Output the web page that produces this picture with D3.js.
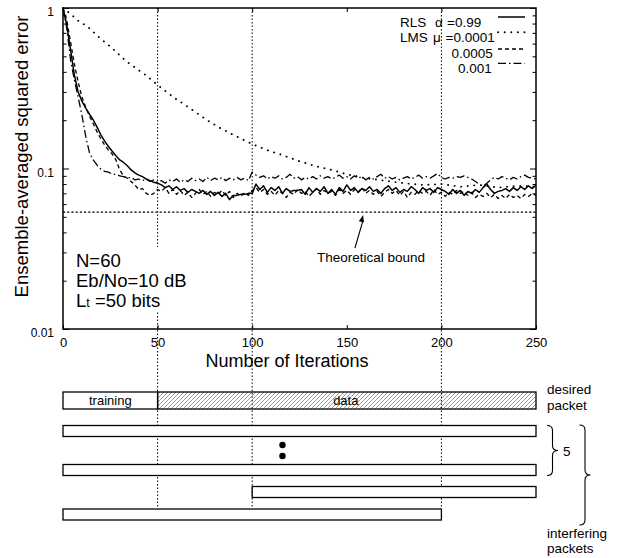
<!DOCTYPE html>
<html>
<head>
<meta charset="utf-8">
<script src="https://cdn.jsdelivr.net/npm/d3@7"></script>
<style>
body { margin: 0; background: #fff; }
svg { font-family: "Liberation Sans", Arial, Helvetica, sans-serif; }
</style>
</head>
<body>
<div id="chart-area"></div>
<script>
// ---- data ----
var xTicks = [0, 50, 100, 150, 200, 250];
var yMajor = [0.01, 0.1, 1];
var yMajorLabels = ["0.01", "0.1", "1"];
var yMinor = [0.02, 0.03, 0.04, 0.05, 0.06, 0.07, 0.08, 0.09, 0.2, 0.3, 0.4, 0.5, 0.6, 0.7, 0.8, 0.9];
var gridIters = [50, 100, 200];
var theoreticalBound = 0.0535;

// noisy curves sampled every 2 iterations (0..250)
var iterStep = 2;

var rls = [
  1.0, 0.783, 0.548, 0.383, 0.300, 0.263, 0.238, 0.218, 0.2005, 0.181, 0.162, 0.148, 0.137,
  0.128, 0.120, 0.113, 0.109, 0.104, 0.098, 0.094, 0.091, 0.089, 0.086, 0.084, 0.082, 0.081,
  0.079, 0.076, 0.078, 0.074, 0.077,
  0.073, 0.075, 0.071, 0.074, 0.072,
  0.070, 0.073, 0.069, 0.072, 0.068,
  0.071, 0.067, 0.070, 0.064, 0.068,
  0.068, 0.069, 0.069, 0.070, 0.070,
  0.080, 0.074, 0.078, 0.071, 0.076,
  0.073, 0.077, 0.070, 0.075, 0.072,
  0.073, 0.073, 0.074, 0.069, 0.076,
  0.071, 0.075, 0.072, 0.077, 0.070,
  0.074, 0.069, 0.076, 0.072, 0.079,
  0.073, 0.076, 0.071, 0.075, 0.073,
  0.077, 0.072, 0.074, 0.070, 0.075,
  0.078, 0.073, 0.076, 0.071, 0.074,
  0.072, 0.077, 0.074, 0.070, 0.076,
  0.073, 0.075, 0.071, 0.076, 0.074,
  0.072, 0.069, 0.074, 0.070, 0.073,
  0.068, 0.072, 0.070, 0.074, 0.071,
  0.076, 0.080, 0.074, 0.070, 0.072,
  0.073, 0.075, 0.072, 0.076, 0.073,
  0.077, 0.074, 0.078, 0.075, 0.079
];

var lms0005 = [
  1.0, 0.842, 0.614, 0.448, 0.346, 0.279, 0.241, 0.212, 0.190, 0.169, 0.153, 0.140, 0.130,
  0.123, 0.113, 0.098, 0.090, 0.087, 0.083, 0.079, 0.074, 0.075, 0.070, 0.068, 0.070, 0.074,
  0.072, 0.076, 0.070, 0.074, 0.069,
  0.073, 0.068, 0.071, 0.066, 0.070,
  0.074, 0.069, 0.072, 0.067, 0.071,
  0.069, 0.073, 0.068, 0.072, 0.066,
  0.070, 0.067, 0.071, 0.068, 0.073,
  0.076, 0.071, 0.074, 0.069, 0.072,
  0.068, 0.073, 0.070, 0.066, 0.071,
  0.069, 0.074, 0.070, 0.072, 0.067,
  0.071, 0.075, 0.069, 0.073, 0.070,
  0.072, 0.068, 0.074, 0.070, 0.073,
  0.069, 0.074, 0.071, 0.076, 0.070,
  0.073, 0.069, 0.072, 0.067, 0.071,
  0.074, 0.070, 0.073, 0.068, 0.072,
  0.066, 0.071, 0.069, 0.073, 0.070,
  0.072, 0.068, 0.074, 0.069, 0.071,
  0.067, 0.071, 0.069, 0.073, 0.070,
  0.072, 0.068, 0.071, 0.066, 0.069,
  0.067, 0.070, 0.066, 0.069, 0.065,
  0.068, 0.065, 0.069, 0.066, 0.068,
  0.065, 0.069, 0.067, 0.070, 0.068
];

var lms001 = [
  1.0, 0.750, 0.474, 0.356, 0.279, 0.215, 0.159, 0.125, 0.113, 0.105, 0.099, 0.096, 0.095,
  0.092, 0.092, 0.090,
  0.089, 0.087, 0.088, 0.085, 0.086,
  0.084, 0.086, 0.083, 0.085, 0.082,
  0.084, 0.081, 0.085, 0.083, 0.086,
  0.082, 0.085, 0.083, 0.087, 0.084,
  0.086, 0.083, 0.088, 0.084, 0.087,
  0.085, 0.088, 0.084, 0.087, 0.085,
  0.088, 0.085, 0.087, 0.084, 0.095,
  0.091, 0.088, 0.090, 0.086, 0.089,
  0.087, 0.090, 0.086, 0.088, 0.092,
  0.087, 0.089, 0.085, 0.088, 0.086,
  0.089, 0.086, 0.090, 0.087, 0.089,
  0.086, 0.088, 0.091, 0.087, 0.089,
  0.086, 0.090, 0.087, 0.089, 0.085,
  0.088, 0.086, 0.089, 0.092, 0.087,
  0.089, 0.086, 0.088, 0.085, 0.087,
  0.089, 0.086, 0.088, 0.091, 0.087,
  0.089, 0.087, 0.090, 0.093, 0.088,
  0.086, 0.088, 0.087, 0.089, 0.088,
  0.090, 0.088, 0.086, 0.083, 0.080,
  0.077, 0.081, 0.085, 0.088, 0.086,
  0.089, 0.087, 0.085, 0.088, 0.086,
  0.089, 0.091, 0.088, 0.087, 0.086
];

// smooth slow curve, read at irregular iterations
var lms0001Iter = [0, 4, 8, 13, 19, 26, 33, 40, 44, 50, 58, 67, 76, 83, 90, 100, 108, 116, 125, 134, 142, 150, 160, 170, 180, 190, 200, 210, 220, 230, 240, 250];
var lms0001Val = [1.0, 0.918, 0.834, 0.765, 0.657, 0.561, 0.47, 0.41, 0.38, 0.331, 0.280, 0.238, 0.2005, 0.179, 0.162, 0.142, 0.130, 0.121, 0.111, 0.103, 0.098, 0.092, 0.087, 0.084, 0.081, 0.079, 0.080, 0.077, 0.079, 0.076, 0.078, 0.077];

// packet diagram (in iterations)
var desiredPacket = [
  { label: "training", start: 0, end: 50, hatch: false },
  { label: "data", start: 50, end: 250, hatch: true }
];
var interferingPackets = [
  { start: 0, end: 250 },
  { start: 0, end: 250 },
  { start: 100, end: 250 },
  { start: 0, end: 200 }
];

// ---- layout ----
var W = 624, H = 558;
var plot = { left: 63, right: 536, top: 8, bottom: 329 };
var rowTop = [392, 425.5, 464.5, 486.5, 509];
var rowH = [17, 11, 11, 11, 11];

var svg = d3.select("#chart-area")
  .append("svg")
  .attr("width", W)
  .attr("height", H);

var x = d3.scaleLinear().domain([0, 250]).range([plot.left, plot.right]);
var y = d3.scaleLog().domain([0.01, 1]).range([plot.bottom, plot.top]);

var defs = svg.append("defs");
var pat = defs.append("pattern")
  .attr("id", "hatch")
  .attr("patternUnits", "userSpaceOnUse")
  .attr("width", 4).attr("height", 4);
pat.append("path")
  .attr("d", "M-1,1 l2,-2 M0,4 l4,-4 M3,5 l2,-2")
  .attr("stroke", "#555")
  .attr("stroke-width", 0.6);

// vertical dotted guide lines
svg.selectAll(".guide")
  .data(gridIters)
  .enter().append("line")
  .attr("class", "guide")
  .attr("x1", function(d) { return x(d); })
  .attr("x2", function(d) { return x(d); })
  .attr("y1", plot.top)
  .attr("y2", 508)
  .attr("stroke", "#000")
  .attr("stroke-width", 1)
  .attr("stroke-dasharray", "1.5 2");

// theoretical bound
svg.append("line")
  .attr("x1", plot.left).attr("x2", plot.right)
  .attr("y1", y(theoreticalBound)).attr("y2", y(theoreticalBound))
  .attr("stroke", "#000")
  .attr("stroke-width", 1.4)
  .attr("stroke-dasharray", "2.2 2");

// white box behind parameter text (cuts the guide line)
svg.append("rect")
  .attr("x", 70).attr("y", 247)
  .attr("width", 125).attr("height", 65)
  .attr("fill", "#fff");

// curves
var line = d3.line()
  .x(function(d) { return x(d.i); })
  .y(function(d) { return y(d.v); });

function toPoints(arr) {
  return arr.map(function(v, k) { return { i: k * iterStep, v: v }; });
}

var series = [
  { pts: lms0001Iter.map(function(it, k) { return { i: it, v: lms0001Val[k] }; }), dash: "0.1 6.5", w: 1.9, cap: "round" },
  { pts: toPoints(lms0005), dash: "4 3", w: 1.3, cap: "butt" },
  { pts: toPoints(lms001), dash: "8 3 1.5 3", w: 1.3, cap: "butt" },
  { pts: toPoints(rls), dash: null, w: 1.5, cap: "butt" }
];

svg.selectAll(".curve")
  .data(series)
  .enter().append("path")
  .attr("class", "curve")
  .attr("d", function(d) { return line(d.pts); })
  .attr("fill", "none")
  .attr("stroke", "#000")
  .attr("stroke-width", function(d) { return d.w; })
  .attr("stroke-linecap", function(d) { return d.cap; })
  .attr("stroke-linejoin", "round")
  .attr("stroke-dasharray", function(d) { return d.dash; });

// axes
function styleAxis(g) {
  g.select(".domain").remove();
  g.selectAll("line").attr("stroke", "#000").attr("stroke-width", 1);
}

var xAxisGroup = svg.append("g")
  .attr("transform", "translate(0," + plot.bottom + ")")
  .call(d3.axisBottom(x).tickValues(xTicks).tickSizeInner(-4).tickSizeOuter(0).tickPadding(9));
styleAxis(xAxisGroup);
xAxisGroup.selectAll("text").attr("font-size", 13).attr("font-family", null).attr("fill", "#000");

var xTopGroup = svg.append("g")
  .attr("transform", "translate(0," + plot.top + ")")
  .call(d3.axisTop(x).tickValues([50, 100, 150, 200]).tickSizeInner(-4).tickSizeOuter(0).tickFormat(""));
styleAxis(xTopGroup);

var yAxisGroup = svg.append("g")
  .attr("transform", "translate(" + plot.left + ",0)")
  .call(d3.axisLeft(y).tickValues(yMajor).tickSizeInner(-6).tickSizeOuter(0).tickPadding(9)
    .tickFormat(function(d, k) { return yMajorLabels[k]; }));
styleAxis(yAxisGroup);
yAxisGroup.selectAll("text")
  .attr("font-size", 12).attr("font-family", null).attr("fill", "#000")
  .attr("transform", "translate(0,4)");

var yMinorGroup = svg.append("g")
  .attr("transform", "translate(" + plot.left + ",0)")
  .call(d3.axisLeft(y).tickValues(yMinor).tickSizeInner(-3.5).tickSizeOuter(0).tickFormat(""));
styleAxis(yMinorGroup);

var yRightGroup = svg.append("g")
  .attr("transform", "translate(" + plot.right + ",0)")
  .call(d3.axisRight(y).tickValues(yMajor).tickSizeInner(-6).tickSizeOuter(0).tickFormat(""));
styleAxis(yRightGroup);

var yRightMinor = svg.append("g")
  .attr("transform", "translate(" + plot.right + ",0)")
  .call(d3.axisRight(y).tickValues(yMinor).tickSizeInner(-3.5).tickSizeOuter(0).tickFormat(""));
styleAxis(yRightMinor);

// frame
svg.append("rect")
  .attr("x", plot.left).attr("y", plot.top)
  .attr("width", plot.right - plot.left)
  .attr("height", plot.bottom - plot.top)
  .attr("fill", "none")
  .attr("stroke", "#000")
  .attr("stroke-width", 1.5);

// axis titles
svg.append("text")
  .attr("x", 287).attr("y", 366.5)
  .attr("text-anchor", "middle")
  .attr("font-size", 18)
  .text("Number of Iterations");

svg.append("text")
  .attr("transform", "translate(28,156.5) rotate(-90)")
  .attr("text-anchor", "middle")
  .attr("font-size", 18.5)
  .text("Ensemble-averaged squared error");

// parameter text
var params = svg.append("text").attr("font-size", 18.5);
params.append("tspan").attr("x", 76).attr("y", 267).text("N=60");
params.append("tspan").attr("x", 76).attr("y", 287).text("Eb/No=10 dB");
params.append("tspan").attr("x", 76).attr("y", 307).text("L");
params.append("tspan").attr("font-size", 12.5).text("t");
params.append("tspan").text(" =50 bits");

// theoretical bound label + arrow
svg.append("text")
  .attr("x", 317).attr("y", 261.5)
  .attr("font-size", 13.5)
  .text("Theoretical bound");

var tip = [x(158.6), y(theoreticalBound) + 3];
var tail = [x(154.3), 248];
svg.append("line")
  .attr("x1", tail[0]).attr("y1", tail[1])
  .attr("x2", tip[0]).attr("y2", tip[1] + 5)
  .attr("stroke", "#000").attr("stroke-width", 1.1);
var ang = Math.atan2(tip[1] - tail[1], tip[0] - tail[0]);
var ah = 7, aw = 2.6;
svg.append("path")
  .attr("d", "M" + tip[0] + "," + tip[1] +
    " L" + (tip[0] - ah * Math.cos(ang) + aw * Math.sin(ang)) + "," + (tip[1] - ah * Math.sin(ang) - aw * Math.cos(ang)) +
    " L" + (tip[0] - ah * Math.cos(ang) - aw * Math.sin(ang)) + "," + (tip[1] - ah * Math.sin(ang) + aw * Math.cos(ang)) + " Z")
  .attr("fill", "#000");

// legend
var legendRows = [
  { a: "RLS", g: "\u03B1", gx: 435, b: "=0.99", bx: 447, anchor: "start", base: 26.5, ly: 17, dash: null, w: 1.5, cap: "butt" },
  { a: "LMS", g: "\u03BC", gx: 433, b: "=0.0001", bx: 445.5, anchor: "start", base: 42, ly: 32.3, dash: "0.1 6.5", w: 1.9, cap: "round" },
  { a: "", g: "", gx: 0, b: "0.0005", bx: 492.7, anchor: "end", base: 57.5, ly: 49, dash: "4 3", w: 1.3, cap: "butt" },
  { a: "", g: "", gx: 0, b: "0.001", bx: 491.7, anchor: "end", base: 73, ly: 63.3, dash: "8 3 1.5 3", w: 1.3, cap: "butt" }
];
var leg = svg.append("g").attr("font-size", 13.5);
legendRows.forEach(function(r) {
  if (r.a) leg.append("text").attr("x", 400).attr("y", r.base).text(r.a);
  if (r.g) leg.append("text").attr("x", r.gx).attr("y", r.base).text(r.g);
  leg.append("text").attr("x", r.bx).attr("y", r.base).attr("text-anchor", r.anchor).text(r.b);
  leg.append("line")
    .attr("x1", 498).attr("x2", 525)
    .attr("y1", r.ly).attr("y2", r.ly)
    .attr("stroke", "#000")
    .attr("stroke-width", r.w)
    .attr("stroke-linecap", r.cap)
    .attr("stroke-dasharray", r.dash);
});

// packet diagram
var pk = svg.append("g");
pk.selectAll(".desired")
  .data(desiredPacket)
  .enter().append("rect")
  .attr("x", function(d) { return x(d.start); })
  .attr("y", rowTop[0])
  .attr("width", function(d) { return x(d.end) - x(d.start); })
  .attr("height", rowH[0])
  .attr("fill", function(d) { return d.hatch ? "url(#hatch)" : "#fff"; })
  .attr("stroke", "#000")
  .attr("stroke-width", 1.3);

pk.selectAll(".dlabel")
  .data(desiredPacket)
  .enter().append("text")
  .attr("x", function(d) { return (x(d.start) + x(d.end)) / 2 - (d.hatch ? 1 : 0); })
  .attr("y", rowTop[0] + 12.5)
  .attr("text-anchor", "middle")
  .attr("font-size", 13)
  .text(function(d) { return d.label; });

pk.selectAll(".interf")
  .data(interferingPackets)
  .enter().append("rect")
  .attr("x", function(d) { return x(d.start); })
  .attr("y", function(d, k) { return rowTop[k + 1]; })
  .attr("width", function(d) { return x(d.end) - x(d.start); })
  .attr("height", function(d, k) { return rowH[k + 1]; })
  .attr("fill", "#fff")
  .attr("stroke", "#000")
  .attr("stroke-width", 1.3);

// vertical ellipsis
[445, 456].forEach(function(cy) {
  pk.append("circle").attr("cx", x(116)).attr("cy", cy).attr("r", 3.2).attr("fill", "#000");
});

// right-side labels
var rl = svg.append("g").attr("font-size", 13.5);
rl.append("text").attr("x", 547).attr("y", 394).text("desired");
rl.append("text").attr("x", 547).attr("y", 410).text("packet");
rl.append("text").attr("x", 563).attr("y", 456).text("5");
rl.append("text").attr("x", 547).attr("y", 538).text("interfering");
rl.append("text").attr("x", 547).attr("y", 553).text("packets");

function brace(x0, yTop, yBot, w) {
  var xm = x0 + w / 2, mid = (yTop + yBot) / 2, r = 5;
  return "M" + x0 + "," + yTop +
    " Q" + xm + "," + yTop + " " + xm + "," + (yTop + r) +
    " L" + xm + "," + (mid - r) +
    " Q" + xm + "," + mid + " " + (x0 + w) + "," + mid +
    " Q" + xm + "," + mid + " " + xm + "," + (mid + r) +
    " L" + xm + "," + (yBot - r) +
    " Q" + xm + "," + yBot + " " + x0 + "," + yBot;
}
rl.append("path").attr("d", brace(547, 425.5, 475.5, 11))
  .attr("fill", "none").attr("stroke", "#000").attr("stroke-width", 1.1);
rl.append("path").attr("d", brace(579.5, 425, 525, 11))
  .attr("fill", "none").attr("stroke", "#000").attr("stroke-width", 1.1);
</script>
</body>
</html>
